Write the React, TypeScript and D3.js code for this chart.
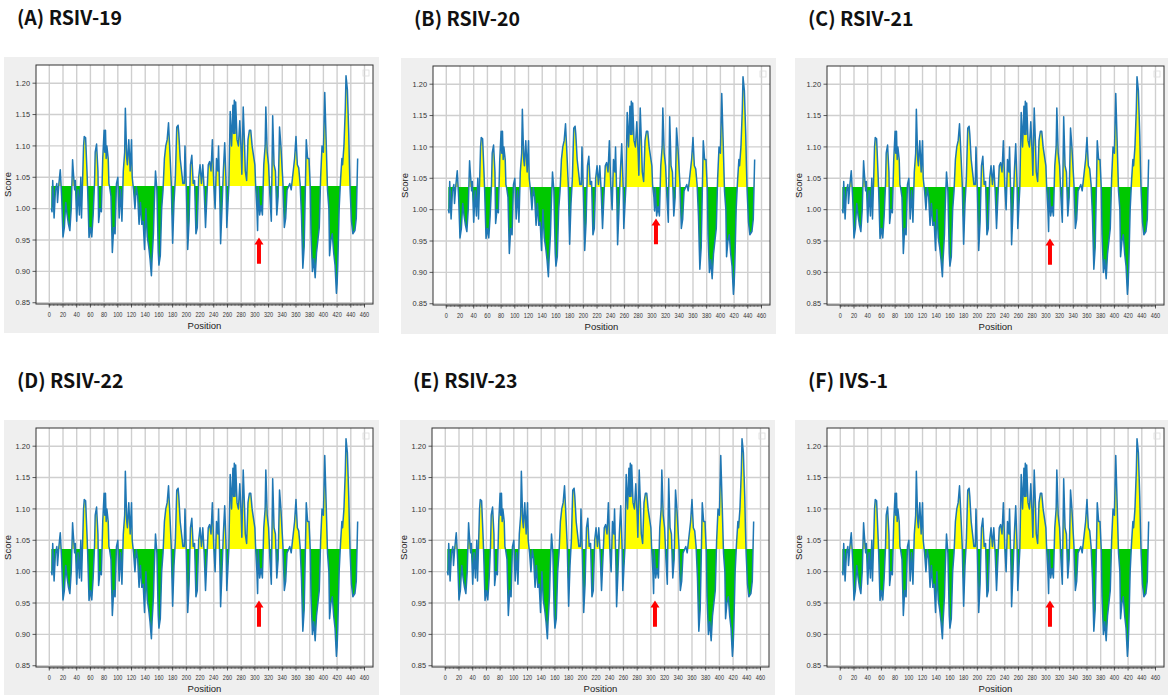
import React from 'react'
import * as d3 from 'd3'

// residue positions and Kolaskar-Tongaonkar style scores
const positions = [
  3, 4, 5, 7, 9, 11, 12, 14, 16, 18, 20, 22, 24, 26, 28, 30, 32, 34, 35, 37, 38, 40, 42, 44, 46, 47, 49, 50, 51, 53, 55, 56, 58, 60,
  62, 64, 66, 67, 69, 71, 72, 74, 76, 78, 80, 81, 82, 83, 84, 86, 87, 88, 90, 92, 94, 96, 98, 100, 102, 104, 106, 108, 110, 111,
  113, 114, 116, 118, 120, 121, 123, 125, 127, 129, 131, 133, 135, 137, 139, 141, 143, 145, 147, 149, 150, 152, 153, 155, 157,
  159, 160, 162, 164, 166, 168, 170, 172, 174, 176, 178, 179, 180, 182, 184, 186, 188, 189, 191, 193, 195, 197, 198, 200, 202,
  204, 206, 208, 210, 212, 214, 216, 218, 220, 222, 224, 226, 228, 230, 232, 234, 236, 238, 240, 242, 244, 246, 247, 249, 250,
  252, 254, 256, 258, 259, 262, 264, 266, 268, 269, 270, 271, 272, 274, 276, 278, 280, 281, 283, 285, 286, 288, 290, 292, 294,
  296, 298, 300, 301, 303, 304, 305, 307, 309, 311, 313, 315, 316, 318, 320, 322, 324, 326, 328, 330, 332, 334, 336, 338, 340,
  341, 343, 345, 347, 349, 351, 353, 356, 358, 360, 362, 364, 366, 368, 370, 372, 374, 375, 377, 379, 381, 382, 384, 386, 388,
  390, 392, 394, 396, 398, 400, 402, 404, 406, 408, 409, 411, 413, 415, 417, 419, 420, 421, 423, 425, 427, 428, 430, 432, 433,
  435, 437, 438, 439, 441, 443, 446, 448, 450,
]
const scores = [
  1.0, 0.995, 1.045, 0.985, 1.03, 1.04, 1.01, 1.04, 1.062, 1.02, 0.955, 0.97, 1.01, 0.99, 0.975, 0.965, 1.0, 1.078, 1.06, 1.03,
  1.045, 0.98, 1.03, 0.99, 1.05, 0.985, 1.06, 1.1, 1.115, 1.113, 1.06, 1.03, 0.954, 0.97,
  0.955, 0.99, 1.04, 1.09, 1.103, 1.06, 0.978, 1.0, 0.995, 1.08, 1.125, 1.09, 1.125, 1.08, 1.1, 1.08, 1.04, 1.035, 1.02, 0.93,
  0.97, 0.96, 1.04, 1.05, 0.985, 1.03, 0.98, 1.06, 1.09, 1.16,
  1.08, 1.07, 1.11, 1.06, 1.11, 1.05, 1.03, 1.0, 1.035, 1.02, 0.975, 1.01, 0.975, 0.98, 0.935, 1.0, 0.955, 0.94, 0.92, 0.893,
  0.92, 0.96, 1.0, 1.06, 1.03,
  0.93, 0.91, 0.925, 1.0, 1.03, 1.08, 1.1, 1.11, 1.137, 1.09, 1.04, 0.99, 0.945, 1.01, 1.05, 1.13, 1.133, 1.12, 1.08, 1.06,
  1.04, 1.04, 1.1, 1.03, 0.935,
  0.98, 1.07, 1.085, 1.04, 1.045, 0.96, 0.97, 1.05, 1.07, 1.04, 1.07, 1.03, 0.97, 1.02, 1.07, 1.075, 1.06, 1.11, 1.04, 1.0,
  1.08, 1.06, 1.1, 1.01, 0.944,
  1.0, 1.06, 1.105, 1.04, 0.97, 1.035, 1.155, 1.1, 1.165, 1.12, 1.173, 1.12, 1.17, 1.11, 1.1, 1.14, 1.09, 1.055, 1.162, 1.1,
  1.06, 1.045, 1.11, 1.125, 1.125,
  1.1, 1.085, 1.07, 1.04, 1.0, 0.965, 1.035, 0.99, 1.005, 0.99, 1.07, 1.1, 1.162, 1.09, 1.07, 1.02, 0.98, 1.148, 1.07, 1.06,
  0.99, 1.02, 1.13, 1.1, 1.06,
  1.04, 0.97, 0.985, 1.03, 1.035, 1.04, 1.03, 1.06, 1.08, 1.115, 1.07, 1.065, 1.04, 0.99, 0.905, 0.94, 1.05, 1.11, 1.08, 1.08,
  1.03, 0.96, 0.9, 0.92, 0.89,
  0.93, 0.95, 0.97, 1.05, 1.1, 1.09, 1.185, 1.11, 1.03, 1.0, 0.925, 0.95, 0.96, 0.93, 0.91, 0.865, 0.88, 0.91, 1.0, 1.045, 1.08,
  1.07, 1.1, 1.16, 1.212,
  1.19, 1.12, 1.07, 1.03, 0.98, 0.96, 0.965, 0.985, 1.08,
]

// panel B differs around the arrowed site
const variantBPositions = [303, 304]
const variantBScores = [1.02, 0.998]

const panelTitles = ['(A) RSIV-19', '(B) RSIV-20', '(C) RSIV-21', '(D) RSIV-22', '(E) RSIV-23', '(F) IVS-1']
const arrowTips = [0.954, 0.986, 0.954, 0.954, 0.954, 0.954]
const arrowBases = [0.912, 0.945, 0.912, 0.912, 0.912, 0.912]
const arrowPosition = 306
const threshold = 1.036

const xTicks = d3.range(0, 461, 20)
const xMinorTicks = d3.range(0, 461, 2)
const yTicks = [0.85, 0.9, 0.95, 1.0, 1.05, 1.1, 1.15, 1.2]

// layout
const panelLeft = [36, 433, 827, 36, 432, 827]
const panelTop = [65, 66, 66, 428, 428, 428]
const W = 337
const H = 239

const tickFamily = '"Liberation Sans", Arial, sans-serif'

function Panel({i}: {i: number}) {
  const x = d3.scaleLinear().domain([-19.4, 472.4]).range([0, W])
  const y = d3.scaleLinear().domain([0.848, 1.229]).range([H, 0])

  const data = positions.map((p, k) => {
    const vi = i === 1 ? variantBPositions.indexOf(p) : -1
    return {pos: p, score: vi >= 0 ? variantBScores[vi] : scores[k]}
  })

  const area = d3.area<{pos: number; score: number}>()
    .x(d => x(d.pos))
    .y0(y(threshold))
    .y1(d => y(d.score))
  const line = d3.line<{pos: number; score: number}>()
    .x(d => x(d.pos))
    .y(d => y(d.score))

  const ty = y(threshold)
  const ax = x(arrowPosition)
  const tip = y(arrowTips[i])
  const base = y(arrowBases[i])
  const arrow = `M${ax},${tip} L${ax + 4.5},${tip + 7} L${ax + 2},${tip + 7} L${ax + 2},${base} L${ax - 2},${base} L${ax - 2},${tip + 7} L${ax - 4.5},${tip + 7} Z`

  const tickFont = {fontFamily: tickFamily, fontSize: 7.4, fill: '#333'}

  return (
    <g transform={`translate(${panelLeft[i]},${panelTop[i]})`}>
      <text x={-19} y={-40} style={{fontFamily: '"Noto Sans CJK KR", "Noto Sans", sans-serif', fontWeight: 700, fontSize: 19.5}} fill="#111">
        {panelTitles[i]}
      </text>
      <rect x={-32} y={-8} width={375} height={276} fill="#efefef" />
      <rect x={0} y={0} width={W} height={H} fill="#fff" />
      <defs>
        <clipPath id={`above-${i}`}><rect x={0} y={0} width={W} height={ty} /></clipPath>
        <clipPath id={`below-${i}`}><rect x={0} y={ty} width={W} height={H - ty} /></clipPath>
      </defs>
      {xTicks.map(t => (
        <line key={'gx' + t} x1={x(t)} x2={x(t)} y1={0} y2={H} stroke="#cfcfcf" strokeWidth={1.4} />
      ))}
      {yTicks.map(t => (
        <line key={'gy' + t} x1={0} x2={W} y1={y(t)} y2={y(t)} stroke="#cfcfcf" strokeWidth={1.4} />
      ))}
      <path d={area(data) || ''} fill="#ffff00" clipPath={`url(#above-${i})`} />
      <path d={area(data) || ''} fill="#00c800" clipPath={`url(#below-${i})`} />
      <path d={line(data) || ''} fill="none" stroke="#1f77b4" strokeWidth={1.5} strokeLinejoin="round" />
      <rect x={0} y={0} width={W} height={H} fill="none" stroke="#333" strokeWidth={1} />
      {xMinorTicks.map(t => (
        <line key={'mx' + t} x1={x(t)} x2={x(t)} y1={H} y2={H + 2} stroke="#333" strokeWidth={0.6} />
      ))}
      {xTicks.map(t => (
        <g key={'tx' + t}>
          <line x1={x(t)} x2={x(t)} y1={H} y2={H + 3.5} stroke="#333" strokeWidth={0.8} />
          <text x={x(t)} y={H + 12.5} textAnchor="middle" style={tickFont}
            textLength={String(t).length * 3.1} lengthAdjust="spacingAndGlyphs">{t}</text>
        </g>
      ))}
      {yTicks.map(t => (
        <g key={'ty' + t}>
          <line x1={-3.5} x2={0} y1={y(t)} y2={y(t)} stroke="#333" strokeWidth={0.8} />
          <text x={-6} y={y(t) + 2.6} textAnchor="end" style={tickFont}>{t.toFixed(2)}</text>
        </g>
      ))}
      <text x={W / 2} y={H + 25} textAnchor="middle" style={{fontFamily: tickFamily, fontSize: 9.5, fill: '#222'}}>Position</text>
      <text transform={`translate(${-25},${H / 2}) rotate(-90)`} textAnchor="middle" style={{fontFamily: tickFamily, fontSize: 9.5, fill: '#222'}}>Score</text>
      <rect x={W - 10} y={5} width={6} height={6} fill="none" stroke="#ddd" strokeWidth={0.8} />
      <path d={arrow} fill="#ff0000" />
    </g>
  )
}

export default function App() {
  return (
    <svg width={1168} height={695} style={{position: 'absolute', left: 0, top: 0, background: '#fff'}}>
      {panelTitles.map((_, i) => <Panel key={i} i={i} />)}
    </svg>
  )
}
